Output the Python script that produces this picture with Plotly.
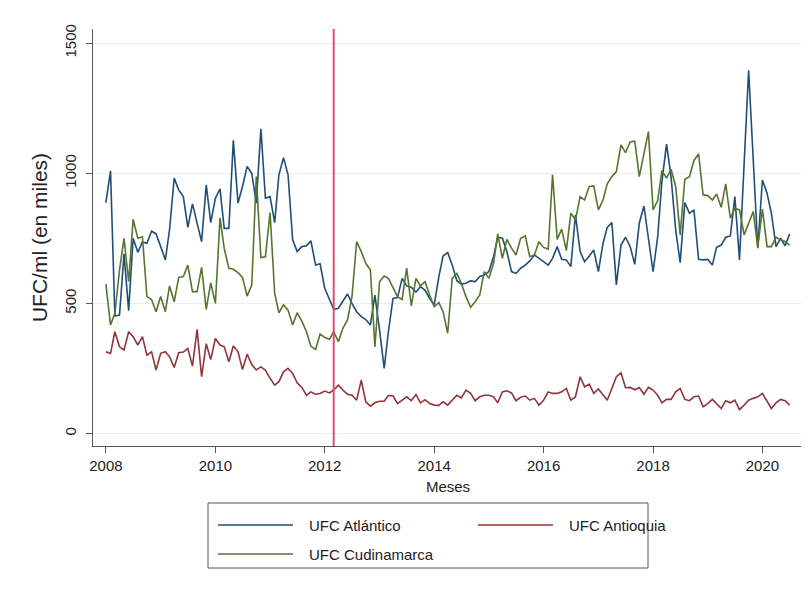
import pandas as pd
import plotly.graph_objects as go

# ---------------- data (monthly, Jan 2008 - Jul 2020) ----------------
start_month = "2008-01-01"
series_names = ["UFC Atlántico", "UFC Antioquia", "UFC Cudinamarca"]

ufc_atlantico = [
    887, 1009, 451, 455, 690, 472, 750, 696, 736, 731, 777, 767,
    718, 667, 782, 981, 936, 910, 792, 882, 808, 737, 955, 810,
    904, 940, 788, 788, 1126, 885, 949, 1026, 1000, 885, 1171, 904,
    910, 810, 994, 1060, 994, 744, 699, 718, 721, 740, 647, 652,
    558, 519, 477, 481, 506, 536, 500, 468, 449, 438, 417, 532,
    397, 250, 391, 519, 522, 596, 567, 562, 543, 564, 550, 519,
    494, 603, 682, 695, 647, 587, 574, 577, 587, 583, 603, 609,
    622, 679, 754, 750, 699, 622, 615, 635, 647, 663, 686, 673,
    660, 647, 673, 718, 669, 667, 641, 840, 699, 660, 682, 705,
    622, 731, 792, 810, 571, 724, 754, 718, 650, 808, 874, 756,
    622, 756, 968, 1112, 987, 782, 656, 887, 846, 859, 669, 667,
    669, 647, 715, 724, 754, 759, 910, 667, 1030, 1395, 1050, 712,
    974, 923, 846, 718, 750, 721, 767,
]

ufc_antioquia = [
    314, 308, 391, 333, 321, 391, 372, 340, 372, 301, 314, 244,
    308, 314, 295, 254, 310, 313, 327, 259, 400, 218, 345, 284,
    365, 340, 333, 276, 336, 314, 246, 305, 265, 244, 256, 244,
    212, 186, 199, 237, 250, 231, 195, 177, 147, 160, 151, 154,
    163, 156, 167, 186, 167, 151, 147, 128, 205, 122, 105, 118,
    124, 124, 146, 145, 115, 128, 141, 126, 150, 118, 130, 115,
    109, 108, 122, 109, 128, 147, 137, 167, 154, 126, 141, 147,
    147, 141, 118, 160, 164, 156, 126, 139, 144, 128, 135, 109,
    128, 160, 154, 154, 160, 173, 128, 141, 218, 179, 190, 154,
    171, 147, 128, 173, 218, 233, 176, 177, 168, 177, 151, 177,
    167, 147, 118, 131, 131, 160, 173, 131, 126, 141, 144, 103,
    115, 131, 115, 96, 126, 118, 128, 92, 109, 128, 135, 141,
    154, 122, 96, 118, 131, 126, 109,
]

ufc_cundinamarca = [
    574, 417, 462, 628, 750, 583, 823, 750, 756, 526, 515, 468,
    526, 468, 567, 506, 600, 603, 647, 545, 545, 638, 477, 579,
    500, 828, 711, 635, 631, 618, 600, 528, 571, 987, 676, 679,
    849, 538, 464, 494, 474, 417, 464, 432, 391, 335, 323, 382,
    369, 362, 391, 353, 404, 436, 526, 737, 699, 654, 628, 333,
    583, 605, 596, 558, 526, 515, 635, 490, 596, 567, 583, 532,
    487, 503, 468, 385, 596, 615, 577, 526, 485, 506, 532, 622,
    596, 654, 767, 673, 746, 712, 686, 750, 759, 679, 686, 737,
    715, 708, 994, 746, 785, 703, 846, 821, 910, 897, 949, 951,
    859, 897, 959, 987, 1006, 1109, 1079, 1120, 1123, 987, 1077, 1160,
    859, 895, 1010, 981, 1015, 949, 763, 977, 987, 1049, 1074, 917,
    914, 897, 920, 869, 959, 827, 865, 859, 763, 805, 853, 715,
    862, 718, 718, 754, 744, 737, 724,
]

tick_years = [2008, 2010, 2012, 2014, 2016, 2018, 2020]
y_ticks = [0, 500, 1000, 1500]
intervention_month = "2012-03-01"

meses = pd.date_range(start_month, periods=len(ufc_atlantico), freq="MS")

# ---------------- styles / layout geometry ----------------
colors = ["#1f4e79", "#90353b", "#55752f"]
FONT = "Liberation Sans, Arial, Helvetica, sans-serif"
W, H = 809, 593
ML, MR, MT, MB = 85, 14, 21, 155
PW, PH = W - ML - MR, H - MT - MB


def px(fx):  # figure pixel x -> paper x
    return (fx - ML) / PW


def py(fy):  # figure pixel y -> paper y
    return (H - MB - fy) / PH


fig = go.Figure()
for name, vals, col in zip(series_names,
                           [ufc_atlantico, ufc_antioquia, ufc_cundinamarca],
                           colors):
    fig.add_trace(go.Scatter(x=meses, y=vals, mode="lines", name=name,
                             showlegend=False,
                             line=dict(color=col, width=1.6)))

fig.add_vline(x=pd.Timestamp(intervention_month),
              line=dict(color="#dc4c78", width=2), layer="above")

# ---------------- legend (Stata style box, 2 columns) ----------------
fig.add_shape(type="rect", xref="paper", yref="paper",
              x0=px(200), x1=px(640), y0=py(560), y1=py(495),
              line=dict(color="#555555", width=1), fillcolor="rgba(0,0,0,0)")
legend_pos = [(210, 517), (470, 517), (210, 546)]  # (line start x, row center y)
for name, col, (lx, ly) in zip(series_names, colors, legend_pos):
    fig.add_shape(type="line", xref="paper", yref="paper",
                  x0=px(lx), x1=px(lx + 75), y0=py(ly), y1=py(ly),
                  line=dict(color=col, width=1.6))
    fig.add_annotation(xref="paper", yref="paper", x=px(lx + 89), y=py(ly),
                       text=name, showarrow=False, xanchor="left",
                       yanchor="middle",
                       font=dict(size=15, family=FONT, color="#222222"))

fig.update_layout(
    width=W, height=H,
    margin=dict(l=ML, r=MR, t=MT, b=MB),
    paper_bgcolor="white", plot_bgcolor="white",
    font=dict(family=FONT, size=15, color="#222222"),
    showlegend=False,
    xaxis=dict(
        type="date",
        range=["2007-10-07", "2020-09-28"],
        tickvals=[pd.Timestamp(f"{y}-01-01") for y in tick_years],
        ticktext=[str(y) for y in tick_years],
        showgrid=False, zeroline=False,
        showline=True, linecolor="#555555", linewidth=1,
        ticks="outside", ticklen=6, tickcolor="#555555", tickwidth=1,
        tickfont=dict(size=15),
        title=dict(text="Meses", font=dict(size=15), standoff=8),
    ),
    yaxis=dict(
        range=[-48, 1554],
        tickvals=y_ticks,
        ticktext=[str(v) for v in y_ticks],
        tickangle=-90,
        showgrid=True, gridcolor="#e6eef0", gridwidth=1,
        zeroline=False,
        showline=True, linecolor="#555555", linewidth=1,
        ticks="outside", ticklen=6, tickcolor="#555555", tickwidth=1,
        ticklabelstandoff=4,
        tickfont=dict(size=15),
        title=dict(text="UFC/ml (en miles)", font=dict(size=21), standoff=8),
    ),
)

fig.write_html("out.html")
